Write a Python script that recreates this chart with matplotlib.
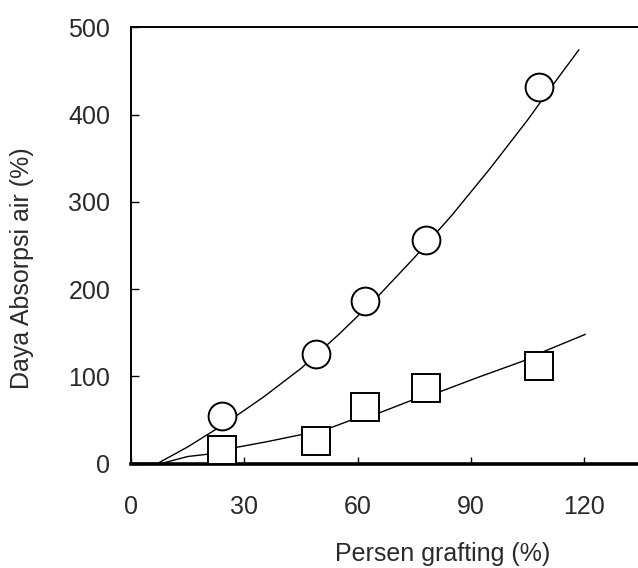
import matplotlib
matplotlib.use("Agg")
import matplotlib.pyplot as plt

plt.rcParams['font.family'] = ['Liberation Sans', 'DejaVu Sans']

# Marker data
grafting = [24, 49, 62, 78, 108]
circle_vals = [55, 125, 186, 256, 432]
square_vals = [15, 26, 65, 87, 112]

# Trend curves
circle_curve_x = [0, 7, 15, 25, 35, 45, 55, 65, 75, 85, 95, 105, 112, 118.5]
circle_curve_y = [0, 0, 19, 46, 76, 109, 148, 190, 236, 285, 338, 394, 436, 474]
square_curve_x = [0, 8, 15, 21, 27.3, 36, 45.5, 53.5, 58.4, 65.7, 74.6, 81.6, 92, 103.8, 109.6, 120.2]
square_curve_y = [0, 0, 8, 11, 18, 25, 33.5, 42, 50, 58, 73, 82, 99, 117.5, 129, 148]

xticks = [0, 30, 60, 90, 120]
yticks = [0, 100, 200, 300, 400, 500]

W, H = 638, 568
fig = plt.figure(figsize=(W / 100, H / 100), dpi=100)
ax = fig.add_axes([131 / W, (H - 463.5) / H, 529 / W, (463.5 - 27.3) / H])

ax.plot(circle_curve_x, circle_curve_y, color='black', lw=1.0, zorder=2, clip_on=False)
ax.plot(square_curve_x, square_curve_y, color='black', lw=1.0, zorder=2, clip_on=False)

ax.plot(grafting, circle_vals, linestyle='none', marker='o', ms=20,
        mfc='white', mec='black', mew=1.4, zorder=3)
ax.plot(grafting, square_vals, linestyle='none', marker='s', ms=20,
        mfc='white', mec='black', mew=1.4, zorder=3)

ax.set_xlim(0, 140)
ax.set_ylim(0, 500)
ax.set_xticks(xticks)
ax.set_yticks(yticks)
ax.set_xticklabels([str(v) for v in xticks])
ax.set_yticklabels([str(v) for v in yticks])

ax.tick_params(axis='x', direction='in', length=5, width=1.0, pad=23,
               labelsize=18, colors='black', labelcolor='#2a2a2a')
ax.tick_params(axis='y', direction='in', length=6, width=1.0, pad=15,
               labelsize=18, colors='black', labelcolor='#2a2a2a')

for side in ['left', 'top']:
    ax.spines[side].set_linewidth(1.4)
ax.spines['bottom'].set_linewidth(2.6)
ax.spines['right'].set_visible(False)

fig.text(443 / W, 1 - 553.5 / H, 'Persen grafting (%)', ha='center', va='center',
         fontsize=18, color='#2a2a2a')
fig.text(22 / W, 1 - 268 / H, 'Daya Absorpsi air (%)', ha='center', va='center',
         rotation=90, fontsize=18, color='#2a2a2a')

fig.savefig('out.png', dpi=100)
